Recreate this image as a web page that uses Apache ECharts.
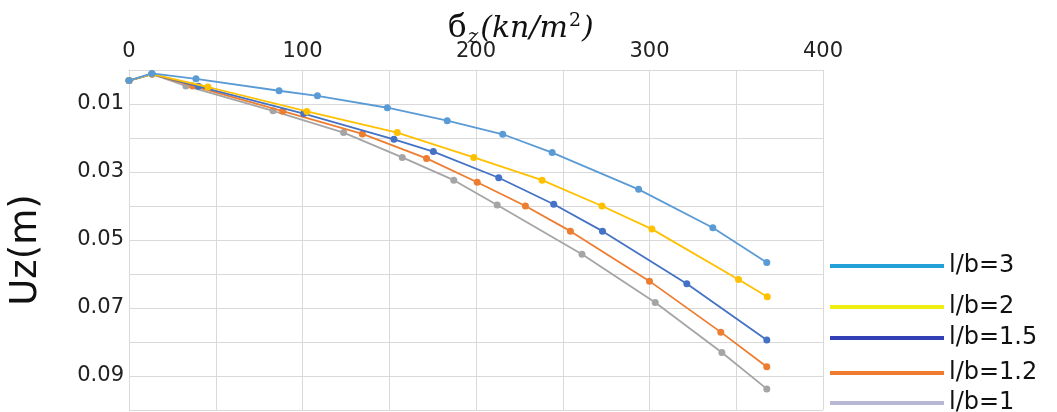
<!DOCTYPE html>
<html>
<head>
<meta charset="utf-8">
<script src="https://cdn.jsdelivr.net/npm/echarts@6/dist/echarts.min.js"></script>
<style>
html,body{margin:0;padding:0;background:#fff;}
#chart{width:1057px;height:412px;}
</style>
</head>
<body>
<div id="chart"></div>
<script>
// ---- data ----
const seriesNames = ['l/b=3', 'l/b=2', 'l/b=1.5', 'l/b=1.2', 'l/b=1'];

const lb3X = [0, 13.2, 38.6, 86.5, 108.6, 148.9, 183.4, 215.4, 243.9, 293.7, 336.5, 367.6];
const lb3Y = [0.0031, 0.0010, 0.0026, 0.0061, 0.0076, 0.0111, 0.0149, 0.0189, 0.0243, 0.0351, 0.0464, 0.0566];

const lb2X = [0, 13.2, 45.5, 102.5, 154.6, 198.7, 238.1, 272.6, 301.4, 351.3, 367.9];
const lb2Y = [0.0031, 0.0012, 0.0050, 0.0122, 0.0184, 0.0257, 0.0324, 0.0400, 0.0468, 0.0616, 0.0667];

const lb15X = [0, 13.2, 40, 100.7, 152.7, 175.4, 213.1, 244.8, 272.9, 321.5, 367.6];
const lb15Y = [0.0031, 0.0012, 0.0048, 0.0128, 0.0204, 0.0240, 0.0317, 0.0395, 0.0474, 0.0629, 0.0794];

const lb12X = [0, 13.2, 36.7, 88.6, 134.5, 171.5, 200.7, 228.5, 254.4, 300.0, 341.1, 367.6];
const lb12Y = [0.0031, 0.0012, 0.0047, 0.0121, 0.0188, 0.0260, 0.0330, 0.0400, 0.0474, 0.0621, 0.0771, 0.0873];

const lb1X = [0, 13.2, 32.8, 83.0, 123.7, 157.5, 187.2, 212.2, 261.1, 303.3, 341.7, 367.6];
const lb1Y = [0.0031, 0.0012, 0.0047, 0.0120, 0.0184, 0.0257, 0.0324, 0.0397, 0.0542, 0.0684, 0.0831, 0.0938];

const xTickLabels = ['0', '100', '200', '300', '400'];
const yTickLabels = ['0.01', '0.03', '0.05', '0.07', '0.09'];

// ---- styling ----
const lineColors = ['#5B9BD5', '#FFC000', '#4472C4', '#ED7D31', '#A5A5A5'];
const legendColors = ['#22A0D8', '#EEEE10', '#3340B5', '#F07A30', '#B8B8D6'];
const legendTops = [246, 287, 318, 353, 383];

const xs = [lb3X, lb2X, lb15X, lb12X, lb1X];
const ys = [lb3Y, lb2Y, lb15Y, lb12Y, lb1Y];

const zip = (a, b) => a.map((v, i) => [v, b[i]]);

const gridColor = '#D9D9D9';
const font = 'DejaVu Sans';

const chart = echarts.init(document.getElementById('chart'), null, {renderer: 'canvas'});

const series = seriesNames.map((name, i) => ({
  name: name,
  type: 'line',
  data: zip(xs[i], ys[i]),
  symbol: 'circle',
  symbolSize: 7,
  smooth: false,
  lineStyle: {color: lineColors[i], width: 1.8},
  itemStyle: {color: lineColors[i]},
  z: 10 - i
}));

const legends = seriesNames.map((name, i) => ({
  data: [{name: name, icon: 'rect', itemStyle: {color: legendColors[i]}}],
  left: 830,
  top: legendTops[i],
  padding: 0,
  itemWidth: 114,
  itemHeight: 4,
  selectedMode: false,
  textStyle: {
    fontFamily: font, fontSize: 24, color: '#111', lineHeight: 24,
    padding: [0, 0, 16, 0]
  }
}));

const tb = {fontFamily: 'DejaVu Serif', fontWeight: 'normal', color: '#111'};

chart.setOption({
  animation: false,
  backgroundColor: '#fff',
  title: {
    text: '{b|б}{sub|z}{i|(kn/m}{sup|2}{i|)}',
    left: 448,
    top: 9,
    padding: 0,
    textStyle: {
      fontWeight: 'normal',
      rich: {
        b: Object.assign({}, tb, {fontSize: 31, lineHeight: 40}),
        sub: Object.assign({}, tb, {fontStyle: 'italic', fontSize: 20, lineHeight: 20, padding: [18, 2, 0, 1]}),
        i: Object.assign({}, tb, {fontStyle: 'italic', fontSize: 30, lineHeight: 40}),
        sup: Object.assign({}, tb, {fontSize: 19, lineHeight: 19, padding: [0, 1, 16, 1]})
      }
    }
  },
  legend: legends,
  grid: {left: 128, right: 234, top: 70, bottom: 2, containLabel: false},
  xAxis: {
    type: 'value',
    position: 'top',
    min: 0, max: 400, interval: 50,
    axisLine: {show: true, lineStyle: {color: gridColor}},
    axisTick: {show: false},
    splitLine: {show: true, lineStyle: {color: gridColor, width: 1}},
    axisLabel: {
      margin: 8,
      fontFamily: font, fontSize: 21, color: '#222',
      formatter: function (v) {
        const idx = xTickLabels.indexOf(String(Math.round(v)));
        return (Math.round(v) % 100 === 0 && idx >= 0) ? xTickLabels[idx] : '';
      }
    }
  },
  yAxis: {
    type: 'value',
    inverse: true,
    min: 0, max: 0.1, interval: 0.01,
    name: 'Uz(m)',
    nameLocation: 'middle',
    nameRotate: 90,
    nameGap: 84,
    nameTextStyle: {fontFamily: font, fontSize: 37, color: '#111', padding: [0, 20, 0, 0]},
    axisLine: {show: true, lineStyle: {color: gridColor}},
    axisTick: {show: false},
    splitLine: {show: true, lineStyle: {color: gridColor, width: 1}},
    axisLabel: {
      margin: 5,
      fontFamily: font, fontSize: 21, color: '#222',
      formatter: function (v) {
        const s = v.toFixed(2);
        return yTickLabels.indexOf(s) >= 0 ? s : '';
      }
    }
  },
  series: series
});
</script>
</body>
</html>
